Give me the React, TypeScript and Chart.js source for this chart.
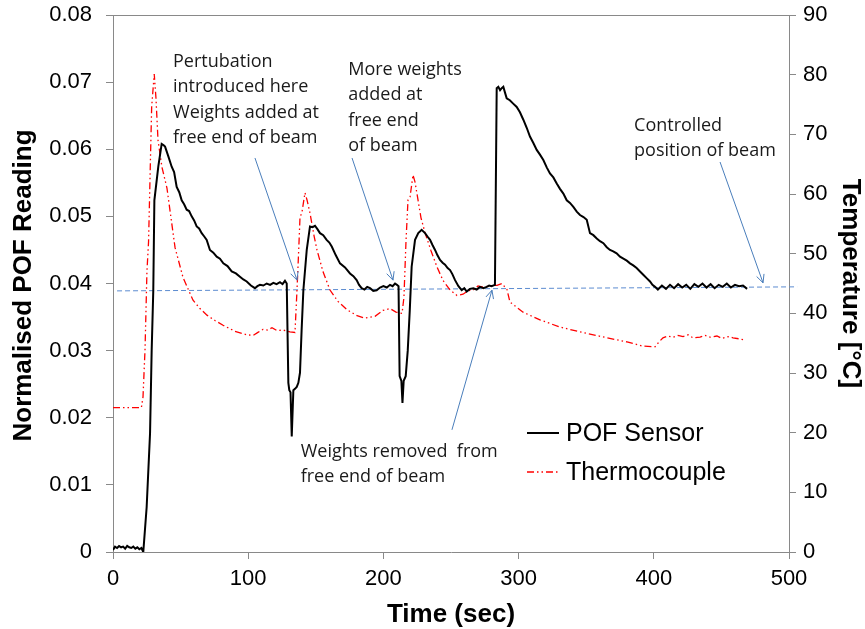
import React, { useEffect, useRef } from 'react';
import { Chart, registerables } from 'chart.js';

Chart.register(...registerables);

// ---------- DATA ----------
const pofTime = [
  0, 1.5, 3, 4.5, 6, 7.5, 9, 10.5, 12, 13.5, 15, 16.5, 18, 19.5, 21, 22.4,
  24.9, 27.4, 28.6, 29.8, 30.6, 33.5, 36, 37.5, 38.5, 41, 43.4, 45.2, 47.1, 49, 50.8,
  52.6, 54.5, 56.3, 58.2, 60, 61.9, 63.7, 65.6, 67.5, 69.3, 71.7, 74.2, 76.7, 79.1,
  81.6, 84.7, 87.8, 90.9, 93.9, 96.4, 98.9, 102, 105, 106.8, 108.7, 111.2, 113.7,
  116.2, 118.6, 121, 123.5, 125.4, 127.2, 128.5, 129.7, 130.4, 131.3, 132.2, 133.4,
  134.6, 135.9, 137.1, 138.3, 139.5, 140.8, 143.3, 145.7, 147.6, 149.4, 151.2, 153.1,
  155.5, 158, 160, 161.8, 164.8, 167.9, 171.6, 175.3, 177.8, 180.2, 182, 183.9, 186,
  188, 190.1, 192.5, 195, 197.5, 200, 202.5, 204.9, 206.8, 208.6, 210, 211.2, 212,
  213.3, 214.1, 215, 216.5, 218, 219.5, 220.9, 223.4, 225.8, 228.3, 230.8, 232.6,
  234.5, 236.4, 238.2, 240, 241.9, 243.8, 245.6, 247.5, 249.3, 251, 253, 255.5, 257.9,
  259.8, 261.6, 264, 266.5, 269, 271.4, 274, 276.4, 278.2, 280, 282.5, 283.8, 285,
  286.3, 287.5, 288.7, 290, 291.2, 293.5, 296, 298.6, 301, 303.5, 306, 308.4, 311,
  313.4, 315.8, 318.3, 320.8, 323.2, 325.7, 328.2, 330.6, 333.1, 335.6, 338, 340.5,
  343, 345.4, 348, 350.4, 352.8, 355.3, 357.8, 360.2, 362.7, 365.2, 367.6, 370, 372.5,
  375, 377.5, 380, 382.4, 384.8, 387.3, 389.8, 392.2, 394.7, 397.2, 399, 400.9, 403,
  406, 409, 412, 415, 418, 421, 424, 427, 430, 433, 436, 439, 442, 445, 448, 451, 454,
  457, 460, 463, 466, 469,
];
const pofValue = [
  0.0003, 0.0008, 0.0006, 0.0009, 0.0007, 0.0008, 0.0005, 0.0009, 0.0007, 0.0006, 0.0008, 0.0005, 0.0007, 0.0004, 0.0006, 0.0,
  0.0067, 0.0177, 0.030, 0.039, 0.0524, 0.0574, 0.0608, 0.0606, 0.0604, 0.0589, 0.0574, 0.0566, 0.0544, 0.0536, 0.0524,
  0.0518, 0.0510, 0.0508, 0.0500, 0.0494, 0.0485, 0.0482, 0.0475, 0.0470, 0.0465, 0.0450, 0.0446, 0.0440, 0.0437,
  0.0430, 0.0426, 0.0418, 0.0415, 0.0410, 0.0406, 0.0403, 0.0397, 0.0393, 0.0396, 0.0398, 0.0397, 0.0400,
  0.0398, 0.0401, 0.0399, 0.0402, 0.0399, 0.0404, 0.0400, 0.0252, 0.0241, 0.0238, 0.0172, 0.0241,
  0.0243, 0.0246, 0.0252, 0.0267, 0.033, 0.039, 0.045, 0.0485, 0.0484, 0.0486, 0.0481, 0.0475,
  0.0472, 0.0465, 0.0461, 0.0455, 0.0442, 0.0430, 0.0424, 0.0415, 0.0411, 0.0405, 0.0398, 0.0393, 0.0391,
  0.0395, 0.0393, 0.0389, 0.0390, 0.0394, 0.0396, 0.0394, 0.0398, 0.0396, 0.0400, 0.0398, 0.0396, 0.0262,
  0.0255, 0.0222, 0.0255, 0.0262, 0.030, 0.036, 0.0425, 0.0465, 0.0475, 0.0480, 0.0475, 0.0470,
  0.0465, 0.0457, 0.0450, 0.0442, 0.0435, 0.0431, 0.0428, 0.0423, 0.0420, 0.0414, 0.0405, 0.0396, 0.0390,
  0.0393, 0.0388, 0.0392, 0.0393, 0.0391, 0.0395, 0.0393, 0.0395, 0.0397, 0.0396, 0.0398, 0.0691, 0.0693,
  0.0688, 0.0691, 0.0693, 0.0684, 0.0676, 0.0673, 0.0668, 0.0663, 0.0655, 0.0644, 0.0632, 0.0619, 0.0609,
  0.0599, 0.0592, 0.0584, 0.0573, 0.0564, 0.0558, 0.0549, 0.0541, 0.0534, 0.0524, 0.0520, 0.0514,
  0.0507, 0.0502, 0.0499, 0.0495, 0.0475, 0.0472, 0.0467, 0.0463, 0.0460, 0.0454, 0.0450, 0.0448, 0.0445,
  0.0440, 0.0437, 0.0434, 0.0430, 0.0427, 0.0423, 0.0418, 0.0413, 0.0408, 0.0403, 0.0398, 0.0395, 0.0391,
  0.0397, 0.0392, 0.0398, 0.0393, 0.0399, 0.0394, 0.0398, 0.0392, 0.0399, 0.0395, 0.0400, 0.0394, 0.0399, 0.0393, 0.0398, 0.0395, 0.0400,
  0.0394, 0.0398, 0.0396, 0.0397, 0.0392,
];

const tcTime = [
  0, 21, 22.2, 23.7, 25.1, 26.3, 28.6, 30.5, 31.8, 33.3, 36.2, 39.9, 42.9, 45.9, 51.8,
  59.2, 64.3, 69.5, 75.4, 81.4, 90.2, 99.1, 103.6, 107.2, 110.9, 114.6, 117.6, 121.3,
  125.7, 130.9, 134.6, 135.7, 136.5, 137.6, 138.3, 139.8, 142, 143.5, 145.7, 148.7,
  150.9, 155.3, 160.5, 166.4, 173.1, 180.5, 186.4, 193.8, 199.7, 204.9, 209.3, 213.8,
  215.2, 216.7, 218.2, 219.7, 221.9, 223.4, 225.6, 227.8, 230.8, 235.2, 239.6, 244.1,
  249.3, 254.4, 258.9, 262.6, 266.3, 270, 273.7, 278.8, 284, 287.7, 291.4, 293.6, 303.3,
  315.8, 330.6, 345.4, 365.4, 380.2, 392, 400.9, 403.8, 406.8, 410.5, 414.2, 417.9,
  421.6, 425.3, 429, 434.2, 437.9, 441.6, 446.7, 450.4, 454.9, 458.6, 463.8, 467.5,
];
const tcValue = [
  24.2, 24.2, 26, 34, 47, 52, 74.6, 80.1, 76, 69, 64.5, 61, 56, 51, 46,
  42.2, 40.8, 39.7, 38.8, 38, 37, 36.4, 36.3, 36.8, 37.3, 37.2, 37.6, 37.1,
  37.2, 36.9, 36.8, 42, 46, 52, 56, 57, 60.2, 59, 56.8, 53,
  50.6, 47, 43.9, 42, 40.6, 39.6, 39.2, 39.5, 40.5, 40.8, 40.2, 40.0,
  42.7, 52, 59, 59.5, 63.2, 62, 59, 56, 53.5, 50.5, 47.8, 45.5,
  43.9, 43, 43.2, 43.8, 43.9, 44.6, 44.4, 44.6, 44.7, 45, 44, 41.9, 40.2,
  38.9, 37.7, 36.9, 35.9, 35.2, 34.5, 34.4, 35.2, 35.9, 36.2, 36.0, 36.3,
  36.1, 36.4, 35.9, 36.0, 36.3, 36.0, 36.2, 35.8, 36.1, 35.9, 35.7, 35.5,
];

const refTime = [3, 506];
const refValue = [0.0389, 0.0395];

const seriesNames = ['POF Sensor', 'Thermocouple'];
const xTickLabels = ['0', '100', '200', '300', '400', '500'];
const leftTickLabels = ['0', '0.01', '0.02', '0.03', '0.04', '0.05', '0.06', '0.07', '0.08'];
const rightTickLabels = ['0', '10', '20', '30', '40', '50', '60', '70', '80', '90'];
const xTitle = 'Time (sec)';
const leftTitle = 'Normalised POF Reading';
const rightTitle = 'Temperature [°C]';

const noteTexts = [
  ['Pertubation', 'introduced here', 'Weights added at', 'free end of beam'],
  ['More weights', 'added at', 'free end', 'of beam'],
  ['Weights removed  from', 'free end of beam'],
  ['Controlled', 'position of beam'],
];
// text anchor (time, value at first baseline) and arrow (from time,value to time,value)
const noteAnchorTime = [44.4, 174.0, 138.8, 385.4];
const noteAnchorValue = [0.0723, 0.0711, 0.0142, 0.06276];
const arrowFromTime = [105, 176.8, 250.7, 449];
const arrowFromValue = [0.0587, 0.0587, 0.0182, 0.0581];
const arrowToTime = [136.1, 207.1, 280.3, 480.8];
const arrowToValue = [0.0405, 0.0405, 0.0390, 0.0401];

// ---------- STYLE ----------
const SANS = '"Liberation Sans", Arial, sans-serif';
const NOTE = '"Open Sans", "Noto Sans", sans-serif';
const AXIS = '#898989';
const BLUE = '#4A7EBB';
const RED_DASH = [7, 3, 1.5, 3, 1.5, 3];

const noPad = (s: any) => {
  s.paddingTop = 0;
  s.paddingBottom = 0;
  s.paddingLeft = 0;
  s.paddingRight = 0;
};

const overlay = {
  id: 'overlay',
  afterDraw(chart: any) {
    const { ctx, chartArea: a, scales } = chart;
    const sx = scales.x;
    const sy = scales.y;
    ctx.save();
    // top border
    ctx.strokeStyle = AXIS;
    ctx.lineWidth = 1;
    ctx.setLineDash([]);
    ctx.beginPath();
    ctx.moveTo(a.left, Math.round(a.top) + 0.5);
    ctx.lineTo(a.right, Math.round(a.top) + 0.5);
    ctx.stroke();

    // arrows
    ctx.strokeStyle = BLUE;
    ctx.lineWidth = 1;
    for (let i = 0; i < arrowFromTime.length; i++) {
      const x1 = sx.getPixelForValue(arrowFromTime[i]);
      const y1 = sy.getPixelForValue(arrowFromValue[i]);
      const x2 = sx.getPixelForValue(arrowToTime[i]);
      const y2 = sy.getPixelForValue(arrowToValue[i]);
      ctx.beginPath();
      ctx.moveTo(x1, y1);
      ctx.lineTo(x2, y2);
      const ang = Math.atan2(y2 - y1, x2 - x1);
      const L = 9;
      const w = 0.45;
      ctx.moveTo(x2 - L * Math.cos(ang - w), y2 - L * Math.sin(ang - w));
      ctx.lineTo(x2, y2);
      ctx.lineTo(x2 - L * Math.cos(ang + w), y2 - L * Math.sin(ang + w));
      ctx.stroke();
    }

    // notes
    ctx.fillStyle = '#1a1a1a';
    ctx.font = `18px ${NOTE}`;
    ctx.textAlign = 'left';
    ctx.textBaseline = 'alphabetic';
    for (let i = 0; i < noteTexts.length; i++) {
      const x = sx.getPixelForValue(noteAnchorTime[i]);
      const y = sy.getPixelForValue(noteAnchorValue[i]);
      noteTexts[i].forEach((t, j) => ctx.fillText(t, x, y + j * 25.5));
    }

    // legend
    const lx1 = 527, lx2 = 559;
    const ly = [433, 472];
    ctx.lineWidth = 2;
    ctx.strokeStyle = '#000';
    ctx.beginPath();
    ctx.moveTo(lx1, ly[0]);
    ctx.lineTo(lx2, ly[0]);
    ctx.stroke();
    ctx.lineWidth = 1.3;
    ctx.strokeStyle = '#FF0000';
    ctx.setLineDash(RED_DASH);
    ctx.beginPath();
    ctx.moveTo(lx1, ly[1]);
    ctx.lineTo(lx2, ly[1]);
    ctx.stroke();
    ctx.setLineDash([]);
    ctx.fillStyle = '#000';
    ctx.font = `25px ${SANS}`;
    ctx.textBaseline = 'middle';
    ctx.fillText(seriesNames[0], 566, ly[0] + 1);
    ctx.fillText(seriesNames[1], 566, ly[1] + 1);

    // axis titles
    ctx.font = `bold 26px ${SANS}`;
    ctx.textAlign = 'center';
    ctx.textBaseline = 'middle';
    const midY = (a.top + a.bottom) / 2;
    ctx.fillText(xTitle, (a.left + a.right) / 2, 615);
    ctx.save();
    ctx.translate(24, midY + 2);
    ctx.rotate(-Math.PI / 2);
    ctx.fillText(leftTitle, 0, 0);
    ctx.restore();
    ctx.save();
    ctx.translate(850, midY);
    ctx.rotate(Math.PI / 2);
    ctx.fillText(rightTitle, 0, 0);
    ctx.restore();
    ctx.restore();
  },
};

export default function App() {
  const ref = useRef<HTMLCanvasElement | null>(null);
  useEffect(() => {
    if (!ref.current) return;
    const tickFont = { family: SANS, size: 22 };
    const chart = new Chart(ref.current, {
      type: 'line',
      data: {
        datasets: [
          {
            label: seriesNames[0],
            data: pofTime.map((t, i) => ({ x: t, y: pofValue[i] })),
            borderColor: '#000',
            borderWidth: 2,
            pointRadius: 0,
            tension: 0,
            yAxisID: 'y',
          },
          {
            label: seriesNames[1],
            data: tcTime.map((t, i) => ({ x: t, y: tcValue[i] })),
            borderColor: '#FF0000',
            borderWidth: 1.3,
            borderDash: RED_DASH,
            pointRadius: 0,
            tension: 0,
            yAxisID: 'y2',
          },
          {
            label: 'ref',
            data: refTime.map((t, i) => ({ x: t, y: refValue[i] })),
            borderColor: '#5B8BD0',
            borderWidth: 1,
            borderDash: [5, 3],
            pointRadius: 0,
            yAxisID: 'y',
            clip: false as any,
          },
        ],
      },
      options: {
        animation: false,
        responsive: false,
        devicePixelRatio: 1,
        layout: { padding: { top: 15, left: 0, right: 0, bottom: 0 } },
        plugins: { legend: { display: false }, tooltip: { enabled: false } },
        events: [],
        scales: {
          x: {
            type: 'linear',
            min: 0,
            max: 500,
            ticks: {
              stepSize: 100,
              font: tickFont,
              color: '#000',
              padding: 7,
              maxRotation: 0,
              callback: (_v: any, i: number) => xTickLabels[i],
            },
            grid: { display: true, drawOnChartArea: false, drawTicks: true, tickLength: 7, color: AXIS },
            border: { display: true, color: AXIS },
            afterFit: (s: any) => { s.height = 77; noPad(s); },
          },
          y: {
            type: 'linear',
            position: 'left',
            min: 0,
            max: 0.08,
            ticks: {
              stepSize: 0.01,
              font: tickFont,
              color: '#000',
              padding: 14,
              callback: (_v: any, i: number) => leftTickLabels[i],
            },
            grid: { display: true, drawOnChartArea: false, drawTicks: true, tickLength: 7, color: AXIS },
            border: { display: true, color: AXIS },
            afterFit: (s: any) => { s.width = 113; noPad(s); },
          },
          y2: {
            type: 'linear',
            position: 'right',
            min: 0,
            max: 90,
            ticks: {
              stepSize: 10,
              font: tickFont,
              color: '#000',
              padding: 7,
              callback: (_v: any, i: number) => rightTickLabels[i],
            },
            grid: { display: true, drawOnChartArea: false, drawTicks: true, tickLength: 7, color: AXIS },
            border: { display: true, color: AXIS },
            afterFit: (s: any) => { s.width = 76; noPad(s); },
          },
        },
      } as any,
      plugins: [overlay],
    });
    return () => chart.destroy();
  }, []);
  return (
    <div style={{ position: 'absolute', left: 0, top: 0, width: 865, height: 629, background: '#fff' }}>
      <canvas ref={ref} width={865} height={629} style={{ display: 'block', width: 865, height: 629 }} />
    </div>
  );
}
